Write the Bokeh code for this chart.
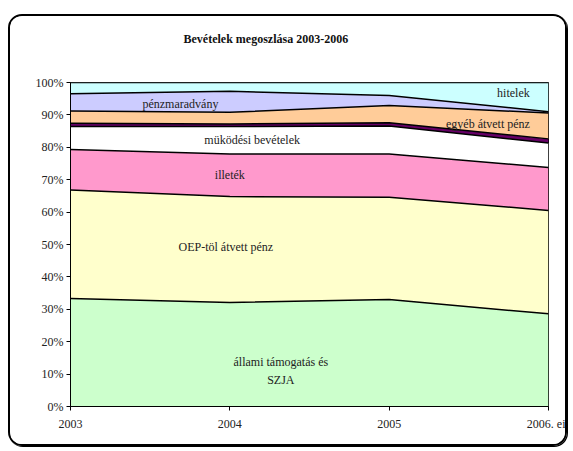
from bokeh.plotting import figure
from bokeh.models import ColumnDataSource, FixedTicker, NumeralTickFormatter, Range1d, Title
from bokeh.core.properties import value
from bokeh.embed import file_html
from bokeh.resources import INLINE

# ---- data (percent shares) ----
years = ["2003", "2004", "2005", "2006. ei"]
allami_tamogatas_szja = [33.3, 32.1, 33.0, 28.6]
oep_atvett_penz = [33.5, 32.7, 31.6, 31.9]
illetek = [12.5, 13.1, 13.3, 13.3]
mukodesi_bevetelek = [7.1, 8.5, 8.7, 7.5]
egyeb_bevetel = [1.0, 0.8, 1.0, 1.3]
egyeb_atvett_penz = [3.8, 3.6, 5.3, 8.0]
penzmaradvany = [5.3, 6.5, 3.1, 0.4]
hitelek = [3.5, 2.7, 4.0, 9.0]

series_names = ["szja", "oep", "illetek", "mukodesi", "egyeb", "egyeb_atvett", "penzmaradvany", "hitelek"]
series_values = [allami_tamogatas_szja, oep_atvett_penz, illetek, mukodesi_bevetelek,
                 egyeb_bevetel, egyeb_atvett_penz, penzmaradvany, hitelek]
series_colors = ["#CCFFCC", "#FFFFCC", "#FF99CC", "#FFFFFF", "#660066", "#FFCC99", "#CCCCFF", "#CCFFFF"]

# in-chart labels: text, x position (year index), y position (share, %)
label_texts = ["állami támogatás és", "SZJA", "OEP-töl átvett pénz", "illeték",
               "müködési bevételek", "pénzmaradvány", "egyéb átvett pénz", "hitelek"]
label_x = [1.32, 1.32, 0.975, 1.0, 1.14, 0.69, 2.62, 2.78]
label_y = [13.6, 8.3, 49.2, 71.3, 82.4, 93.5, 87.3, 96.9]

title_text = "Bevételek megoszlása 2003-2006"

x_idx = list(range(len(years)))
data = {"x": x_idx}
for name, vals in zip(series_names, series_values):
    data[name] = [v / 100.0 for v in vals]
source = ColumnDataSource(data)

FONT = "'Liberation Serif', 'Times New Roman', serif"

p = figure(width=559, height=432, x_range=Range1d(0, 3), y_range=Range1d(0, 1),
           output_backend="svg", toolbar_location=None, title=None,
           min_border_left=60, min_border_right=21, min_border_top=66, min_border_bottom=42)
p.styles = {"border": "2px solid black", "border-radius": "14px", "overflow": "hidden",
            "margin-left": "8px", "margin-top": "14px", "box-shadow": "1px 1px 0 #000"}

# spacer between frame and title (nearest the frame), then the title itself
spacer = Title(text=" ", text_font=FONT, text_font_size="12px", standoff=21)
p.add_layout(spacer, "above")
main_title = Title(text=title_text, text_font=FONT, text_font_size="12px", text_font_style="bold",
                   align="left", offset=113, standoff=0, text_color="#111111")
p.add_layout(main_title, "above")

p.varea_stack(stackers=series_names, x="x", color=series_colors, source=source)
p.vline_stack(stackers=series_names, x="x", color="black", line_width=1.5, source=source)

lab_src = ColumnDataSource({"x": label_x, "y": [v / 100.0 for v in label_y], "t": label_texts})
p.text(x="x", y="y", text="t", source=lab_src, text_font=value(FONT), text_font_size="12px",
       text_align="center", text_baseline="middle", text_color="#222222")

p.xgrid.grid_line_color = None
p.ygrid.grid_line_color = None
p.outline_line_color = "black"
p.outline_line_width = 1

p.xaxis.ticker = FixedTicker(ticks=x_idx)
p.xaxis.major_label_overrides = {i: y for i, y in zip(x_idx, years)}
p.yaxis.ticker = FixedTicker(ticks=[i / 10 for i in range(11)])
p.yaxis.formatter = NumeralTickFormatter(format="0%")
for ax in (p.xaxis, p.yaxis):
    ax.axis_line_color = "black"
    ax.major_tick_line_color = "black"
    ax.major_tick_in = 0
    ax.major_tick_out = 4
    ax.minor_tick_line_color = None
    ax.major_label_text_font = FONT
    ax.major_label_text_font_size = "12px"
    ax.major_label_text_color = "#222222"
p.yaxis.major_label_standoff = 3
p.xaxis.major_label_standoff = 6

open("out.html", "w").write(file_html(p, INLINE))
